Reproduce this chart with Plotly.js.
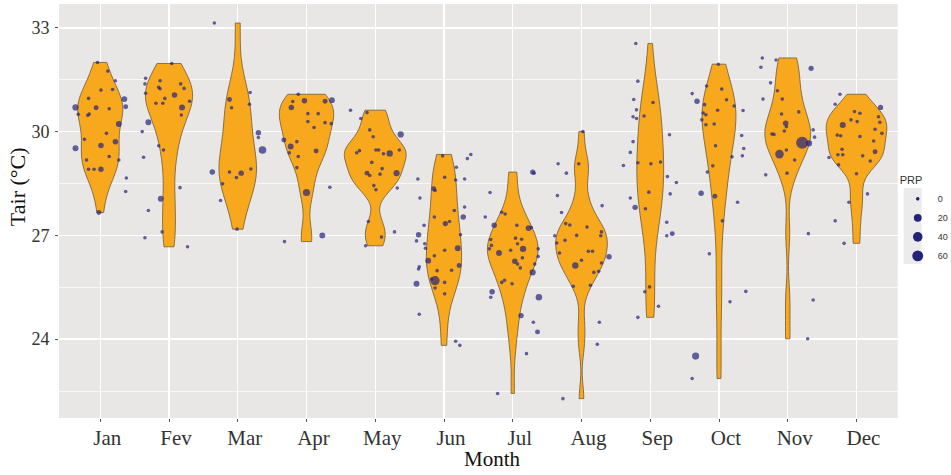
<!DOCTYPE html>
<html>
<head>
<meta charset="utf-8">
<script src="https://cdn.plot.ly/plotly-3.0.1.min.js"></script>
<style>html,body{margin:0;padding:0;background:#fff;}#chart{width:951px;height:475px;}</style>
</head>
<body>
<div id="chart"></div>
<script>
// ---- data ----
const months = ['Jan','Fev','Mar','Apr','May','Jun','Jul','Aug','Sep','Oct','Nov','Dec'];

// air temperature (°C) of each observation, per month
const tair = [
 [30.70,30.50,32.00,31.75,31.47,30.96,31.20,31.22,30.94,30.72,30.69,30.51,30.47,30.66,30.22,29.95,29.78,29.71,29.52,29.60,29.28,29.18,29.18,28.91,28.91,28.91,28.66,28.27,27.66],
 [31.54,31.38,31.11,30.00,30.27,29.26,27.72,28.06,27.10,26.93,26.67,31.97,31.47,31.28,31.24,31.38,31.25,31.06,30.96,30.82,30.82,30.70,30.48,30.88,29.59,29.47,28.38],
 [33.14,30.93,30.69,31.13,30.79,29.97,29.83,29.47,28.83,28.83,28.80,28.67,28.92,28.49,28.01,27.18],
 [31.08,30.87,30.70,30.89,30.88,30.91,30.52,30.52,30.26,30.23,30.29,30.12,29.76,29.57,29.39,29.71,29.28,29.44,28.96,28.39,28.24,27.00,26.82],
 [30.62,30.38,30.55,30.05,29.85,29.92,29.47,29.47,29.36,29.37,29.47,29.39,29.45,29.11,28.93,28.80,28.73,28.77,28.80,28.37,28.44,28.32,27.40,27.10,26.95,26.70],
 [29.34,29.22,29.30,28.97,28.63,28.60,28.63,28.68,28.35,28.30,28.08,27.82,27.72,27.53,27.53,27.34,27.40,27.29,27.02,26.84,27.02,26.76,26.63,26.63,26.41,26.57,26.27,26.13,26.09,26.03,25.98,25.99,25.69,25.74,25.60,25.48,25.64,25.31,24.72,23.94,23.82],
 [28.83,28.80,28.24,27.53,27.67,27.62,27.29,27.21,27.23,27.29,26.88,26.61,26.71,26.92,26.89,26.76,26.57,26.61,26.49,26.61,26.39,26.35,26.25,26.17,26.06,26.17,25.93,25.64,25.70,25.60,25.37,25.21,25.21,24.68,24.49,24.21,23.58,22.43],
 [30.00,29.07,29.07,28.80,28.15,27.86,27.66,27.34,27.30,27.24,26.99,27.00,27.10,26.99,26.78,26.86,26.49,26.54,26.54,26.38,26.28,26.13,26.20,25.96,25.93,25.53,25.56,24.49,23.85,22.28],
 [32.55,31.46,30.93,30.63,30.43,30.38,30.45,30.84,29.71,29.40,29.02,29.10,29.07,29.12,29.91,28.70,28.53,28.25,28.20,28.08,27.81,27.77,27.38,26.99,27.05,25.51,25.37,24.95,24.63],
 [31.95,31.10,31.32,31.23,30.88,30.92,30.74,30.61,30.78,30.62,30.54,30.49,30.34,30.20,30.22,29.89,29.59,29.51,29.30,29.27,29.01,28.83,28.22,28.13,27.96,27.42,26.47,25.38,25.08,23.51,22.86],
 [32.13,32.07,31.86,31.83,31.41,31.18,30.94,30.94,30.57,30.51,30.24,30.14,30.02,29.93,29.92,30.05,29.84,29.68,29.66,29.47,29.35,29.18,28.75,28.80,27.05,25.13,24.01],
 [31.08,30.79,30.70,30.58,30.53,30.34,30.29,30.19,30.43,30.27,30.07,29.95,29.90,29.88,29.86,29.73,29.49,29.42,29.25,29.33,29.33,29.30,29.15,29.04,28.78,28.20,27.96,27.42,26.77]
];

// horizontal jitter of each plotted point (fraction of a month slot)
const jitter = [
 [-0.36,-0.32,-0.04,0.11,0.22,-0.17,0.01,0.18,0.35,0.37,-0.06,-0.16,-0.18,0.13,0.27,0.09,-0.23,0.22,-0.36,0.01,0.13,0.27,-0.20,-0.17,-0.09,0.01,0.38,0.37,-0.02],
 [-0.34,-0.35,-0.34,-0.39,-0.30,-0.37,-0.30,-0.12,-0.10,-0.35,0.27,0.04,-0.13,-0.15,-0.13,0.17,0.22,0.08,-0.06,-0.19,-0.09,0.19,0.18,0.30,-0.15,-0.08,0.16],
 [-0.34,-0.12,-0.09,0.18,0.17,0.30,0.30,0.36,-0.37,-0.12,0.05,-0.02,0.19,-0.22,-0.25,-0.01],
 [-0.12,-0.20,-0.22,-0.03,0.27,0.37,0.02,0.17,0.27,0.36,0.02,0.11,-0.33,-0.23,-0.25,-0.14,-0.12,0.14,-0.14,0.34,0.00,0.23,-0.32],
 [-0.36,-0.21,-0.12,-0.08,-0.03,0.37,0.01,0.05,0.12,0.21,0.35,-0.27,-0.23,-0.05,0.10,-0.12,-0.08,0.07,0.31,0.32,-0.02,0.01,-0.10,0.28,0.09,-0.14],
 [0.39,0.34,-0.02,0.18,0.30,0.17,-0.38,0.01,-0.15,-0.13,-0.35,0.30,0.15,0.28,-0.14,0.02,0.08,-0.29,-0.37,-0.40,0.24,-0.28,-0.27,0.20,-0.14,0.01,-0.23,0.22,-0.36,-0.37,-0.10,0.11,-0.13,-0.18,-0.40,-0.13,0.01,0.01,-0.36,0.17,0.23],
 [0.29,0.31,-0.33,-0.40,-0.16,-0.11,-0.27,0.23,0.27,0.06,-0.32,-0.34,-0.31,0.04,0.13,0.07,-0.03,0.15,-0.20,0.37,0.37,0.14,0.03,0.07,0.11,0.32,0.29,-0.16,-0.12,-0.01,-0.30,-0.32,0.38,0.12,0.30,0.36,0.20,-0.22],
 [0.02,-0.04,-0.34,-0.22,-0.35,0.30,-0.29,-0.23,-0.17,0.08,-0.39,-0.07,0.29,0.28,-0.36,-0.24,-0.32,0.10,0.16,0.40,0.00,-0.09,0.29,0.25,0.18,-0.12,0.13,0.26,0.23,-0.27],
 [-0.21,-0.18,-0.24,-0.20,-0.25,-0.20,-0.09,0.04,-0.25,-0.29,-0.39,-0.18,0.01,0.15,0.28,0.25,0.38,-0.02,0.29,-0.29,-0.22,-0.07,0.24,0.24,0.32,-0.01,-0.08,0.12,-0.18],
 [-0.01,-0.39,-0.18,0.04,-0.32,0.11,0.22,0.35,-0.21,-0.02,-0.23,-0.19,-0.25,-0.19,-0.07,0.33,-0.05,0.36,0.34,0.19,-0.09,-0.17,-0.26,-0.06,0.27,0.05,-0.14,0.39,0.16,-0.34,-0.39],
 [-0.37,-0.17,-0.39,0.34,-0.25,-0.15,-0.36,-0.08,0.16,-0.09,-0.03,-0.02,-0.05,-0.23,-0.20,0.37,0.39,0.21,0.31,-0.02,-0.12,0.10,-0.32,-0.01,0.30,0.37,0.29],
 [-0.24,-0.31,0.35,-0.03,0.05,-0.08,0.01,-0.20,0.32,0.34,0.27,0.37,-0.28,-0.23,0.05,0.25,-0.21,0.27,-0.40,-0.27,-0.20,0.09,0.20,-0.26,0.00,0.16,-0.11,-0.31,-0.18]
];

// precipitation (PRP) of each observation
const prp = [
 [8,0,0,0,0,0,0,0,6,2,2,0,0,0,6,0,0,4,6,4,0,0,0,0,0,4,0,0,2],
 [0,0,0,0,6,0,0,6,0,0,0,0,0,0,0,0,0,4,0,0,0,6,0,0,0,0,0],
 [0,2,0,0,0,4,0,18,4,0,4,0,0,0,0,0],
 [0,0,4,4,2,5,0,0,0,0,0,0,2,6,0,0,0,2,0,0,14,6,0],
 [0,0,0,0,0,8,0,0,0,9,0,0,0,0,0,2,0,0,7,0,0,0,0,0,0,0],
 [0,0,0,0,0,0,0,0,2,0,0,0,0,4,0,3,0,0,4,0,0,0,0,6,0,0,6,2,0,0,0,0,35,0,6,0,0,0,0,0,0],
 [3,0,0,0,0,0,4,6,0,0,0,0,0,0,0,0,0,9,6,0,0,0,4,0,0,0,7,0,0,0,4,0,9,4,0,2,0,0],
 [0,0,0,0,0,0,0,0,0,0,0,0,0,0,0,0,0,0,0,4,0,9,0,0,0,0,0,0,0,0],
 [0,0,0,0,0,0,0,0,0,0,0,0,0,0,0,0,0,0,0,0,4,0,0,0,2,0,0,0,0],
 [0,0,0,0,4,0,0,0,0,0,0,0,0,0,0,0,0,0,0,0,0,0,4,2,0,0,0,0,0,14,0],
 [0,0,0,3,0,0,0,0,0,0,4,0,0,0,0,0,0,80,7,0,28,0,0,0,0,0,0],
 [0,0,3,0,0,0,0,7,0,0,0,0,0,0,0,0,0,2,0,0,0,0,0,0,0,0,0,0,0]
];

const prpLegend = [0, 20, 40, 60];

// ---- scales / helpers ----
const sizeOf = v => 3.6 + 7.3 * Math.sqrt(v / 60);          // point diameter (px) from PRP
function q7(s, p){ const h=(s.length-1)*p, lo=Math.floor(h), hi=Math.min(lo+1,s.length-1); return s[lo]+(h-lo)*(s[hi]-s[lo]); }
function nrd0(v){
  const n=v.length, m=v.reduce((a,b)=>a+b,0)/n;
  const sd=Math.sqrt(v.reduce((a,b)=>a+(b-m)*(b-m),0)/(n-1));
  const s=[...v].sort((a,b)=>a-b);
  let lo=Math.min(sd,(q7(s,.75)-q7(s,.25))/1.34);
  if(!(lo>0)) lo = sd || 1;
  return 0.9*lo*Math.pow(n,-0.2);
}
function maxDensity(v,bw){
  const lo=Math.min(...v), hi=Math.max(...v), n=v.length; let best=0;
  for(let i=0;i<=400;i++){
    const y=lo+(hi-lo)*i/400; let d=0;
    for(const x of v){ const z=(y-x)/bw; d+=Math.exp(-0.5*z*z); }
    d/= n*bw*Math.sqrt(2*Math.PI);
    if(d>best) best=d;
  }
  return best;
}
const bws = tair.map(nrd0);
const maxD = tair.map((v,i)=>maxDensity(v,bws[i]));
const maxAll = Math.max(...maxD);

const VIOLIN_FILL = '#F8A81C', VIOLIN_LINE = '#6e5a38', POINT = '#25227A';
const serif = 'Liberation Serif, Times New Roman, serif';
const sans = 'Liberation Sans, Arial, sans-serif';

const traces = [];
months.forEach((m,i)=>{
  traces.push({
    type:'violin', x0:i+1, y:tair[i], name:m, orientation:'v',
    bandwidth:bws[i], spanmode:'hard', scalemode:'width',
    width:0.9*maxD[i]/maxAll,
    fillcolor:VIOLIN_FILL, line:{color:VIOLIN_LINE,width:0.8},
    points:false, box:{visible:false}, meanline:{visible:false},
    showlegend:false, hoverinfo:'y'
  });
});
// jittered observation points
const px=[], py=[], ps=[];
months.forEach((m,i)=>{
  tair[i].forEach((t,k)=>{ px.push(i+1+jitter[i][k]); py.push(t); ps.push(sizeOf(prp[i][k])); });
});
traces.push({type:'scatter', mode:'markers', x:px, y:py, showlegend:false,
  marker:{color:POINT, size:ps, sizemode:'diameter', line:{width:0}}, hoverinfo:'y'});
// size legend
prpLegend.forEach(v=>{
  traces.push({type:'scatter', mode:'markers', x:[null], y:[null], name:String(v),
    marker:{color:POINT, size:sizeOf(v), line:{width:0}}, showlegend:true});
});

const layout = {
  width:951, height:475,
  margin:{l:59, r:50, t:4, b:57, pad:0},
  paper_bgcolor:'#ffffff', plot_bgcolor:'#E9E6E6',
  violinmode:'overlay', showlegend:true,
  xaxis:{
    range:[0.4,12.6], tickmode:'array', tickvals:months.map((m,i)=>i+1), ticktext:months,
    showgrid:true, gridcolor:'#ffffff', gridwidth:1.3, zeroline:false, showline:false,
    ticks:'outside', ticklen:3, tickwidth:1, tickcolor:'#555',
    tickfont:{family:serif, size:21, color:'#333'}, ticklabelshift:7, ticklabelstandoff:-2
  },
  yaxis:{
    range:[21.72,33.69], tickmode:'array', tickvals:[24,27,30,33],
    showgrid:true, gridcolor:'#ffffff', gridwidth:1.3, zeroline:false, showline:false,
    ticks:'outside', ticklen:3, tickwidth:1, tickcolor:'#555',
    tickfont:{family:serif, size:18, color:'#333'}, ticklabelstandoff:2,
    minor:{tickmode:'array', tickvals:[22.5,25.5,28.5,31.5], showgrid:true, gridcolor:'#ffffff', gridwidth:0.7, ticks:''}
  },
  legend:{
    xref:'container', yref:'container',
    x:0.944, xanchor:'left', y:0.642, yanchor:'top',
    title:{text:'PRP', font:{family:sans, size:11, color:'#333'}},
    font:{family:sans, size:9, color:'#333'},
    bgcolor:'rgba(0,0,0,0)', itemwidth:30, tracegroupgap:0
  },
  shapes:[
    // grey key background of the size legend
    {type:'rect', xref:'paper', yref:'paper', x0:1.0071, x1:1.0285, y0:0.372, y1:0.5556,
     fillcolor:'#EBEBEB', line:{width:0}, layer:'below'}
  ],
  annotations:[
    {text:'Month', xref:'paper', yref:'paper', x:0.5166, y:-0.10, xanchor:'center', yanchor:'middle',
     showarrow:false, font:{family:serif, size:21, color:'#111'}},
    {text:'Tair (°C)', xref:'paper', yref:'paper', x:-0.0487, y:0.558, xanchor:'center', yanchor:'middle',
     textangle:-90, showarrow:false, font:{family:serif, size:22, color:'#111'}}
  ]
};

Plotly.newPlot('chart', traces, layout, {displayModeBar:false, staticPlot:true});
</script>
</body>
</html>
